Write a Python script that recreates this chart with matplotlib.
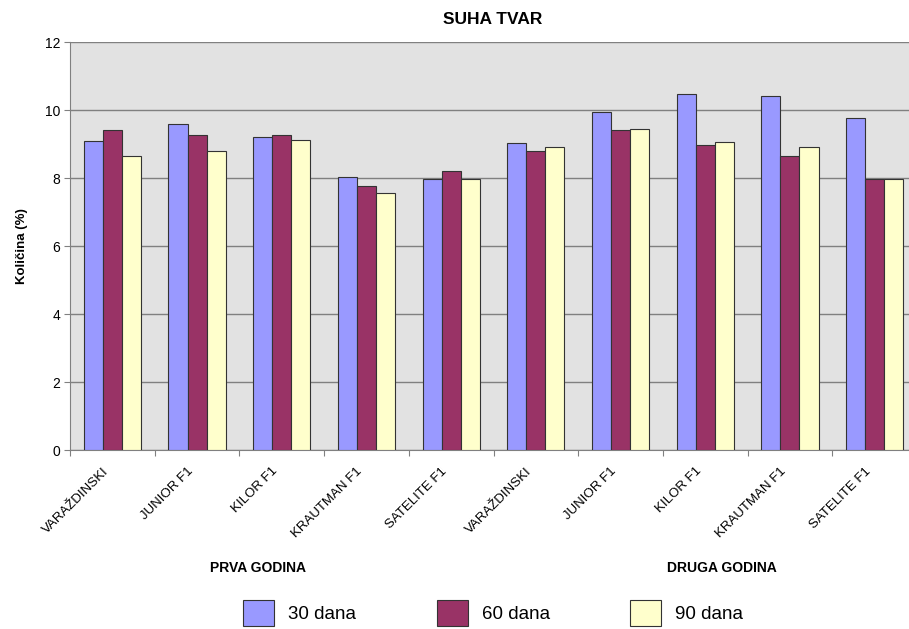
import numpy as np
import matplotlib
matplotlib.use("Agg")
import matplotlib.pyplot as plt

plt.rcParams["font.family"] = ["Liberation Sans", "DejaVu Sans"]

# sorte (dvije godine po pet sorti)
categories = ["VARAŽDINSKI", "JUNIOR F1", "KILOR F1", "KRAUTMAN F1", "SATELITE F1",
              "VARAŽDINSKI", "JUNIOR F1", "KILOR F1", "KRAUTMAN F1", "SATELITE F1"]
series_names = ["30 dana", "60 dana", "90 dana"]
dana_30 = [9.09, 9.58, 9.21, 8.04, 7.97, 9.04, 9.93, 10.47, 10.42, 9.77]
dana_60 = [9.41, 9.26, 9.26, 7.77, 8.21, 8.79, 9.41, 8.98, 8.64, 7.96]
dana_90 = [8.64, 8.80, 9.13, 7.55, 7.98, 8.92, 9.45, 9.06, 8.90, 7.97]
years = ["PRVA GODINA", "DRUGA GODINA"]

colors = ["#9999ff", "#993366", "#ffffcc"]

fig = plt.figure(figsize=(9.09, 6.29), dpi=100)
ax = fig.add_axes([70 / 909, 1 - 450 / 629, 847 / 909, 408 / 629])
ax.set_facecolor("#e2e2e2")

x = np.arange(len(categories))
w = 0.225
for i, (vals, name) in enumerate(zip([dana_30, dana_60, dana_90], series_names)):
    ax.bar(x + (i - 1) * w, vals, w, color=colors[i], edgecolor="#333333",
           linewidth=0.8, label=name, zorder=3)

ax.set_xlim(-0.5, len(categories) - 0.5)
ax.set_ylim(0, 12)
ax.set_yticks(range(0, 13, 2))
ax.yaxis.grid(True, color="#808080", linewidth=1.0, zorder=0)
ax.tick_params(axis="y", labelsize=10, length=4, color="#808080", pad=3)

# kategorije bez oznaka, crtice izmedju grupa
ax.set_xticks(np.arange(-0.5, len(categories), 1.0))
ax.set_xticklabels([])
ax.tick_params(axis="x", length=4, color="#808080")
for xi, lab in zip(x, categories):
    ax.text(xi - 0.12, -0.45, lab, rotation=45, ha="right", va="top",
            rotation_mode="anchor", fontsize=9.5)

for s in ["top", "right"]:
    ax.spines[s].set_visible(False)
for s in ["left", "bottom"]:
    ax.spines[s].set_color("#808080")

ax.set_ylabel("Količina (%)", fontsize=9.5, fontweight="bold", labelpad=12)
fig.text(493 / 909, 1 - 20 / 629, "SUHA TVAR", ha="center", va="center",
         fontsize=12.5, fontweight="bold")
fig.text(258 / 909, 1 - 568 / 629, years[0], ha="center", va="center",
         fontsize=10, fontweight="bold")
fig.text(722 / 909, 1 - 568 / 629, years[1], ha="center", va="center",
         fontsize=10, fontweight="bold")

fig.legend(loc="upper left", bbox_to_anchor=(243 / 909, 1 - 600 / 629), ncol=3,
           frameon=False, fontsize=13.5, handlelength=1.65, handleheight=1.75,
           handletextpad=0.75, columnspacing=4.3, borderpad=0, borderaxespad=0)

fig.savefig("out.png", dpi=100)
